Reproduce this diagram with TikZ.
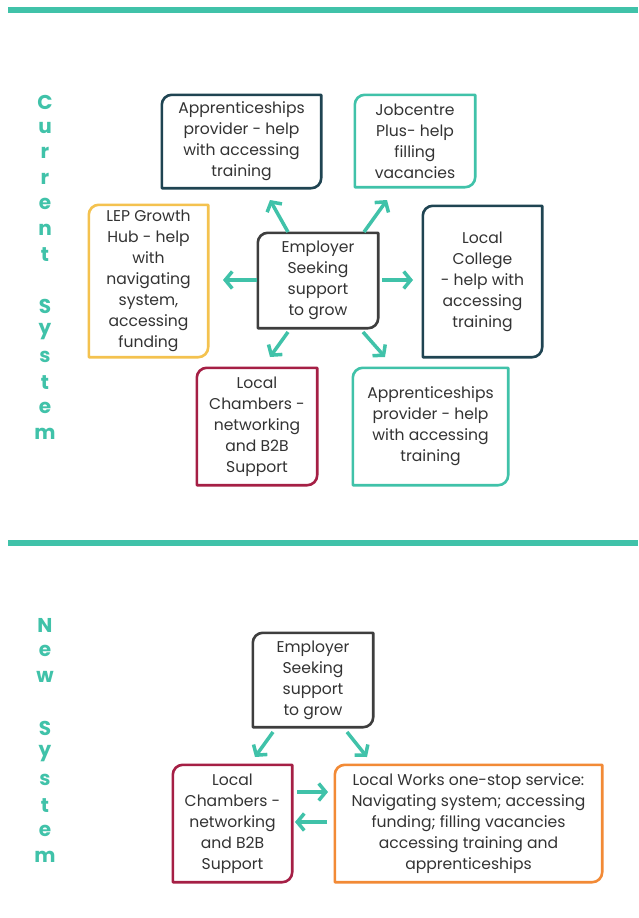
\documentclass[tikz,border=0pt]{standalone}
\usepackage{fontspec}
\setmainfont{Poppins}
\newfontfamily\vfont{Poppins}
\usetikzlibrary{arrows.meta,calc}
\definecolor{tealc}{HTML}{40C2A9}
\definecolor{navyc}{HTML}{1F4452}
\definecolor{yellowc}{HTML}{F4C24F}
\definecolor{grayc}{HTML}{3E3E3E}
\definecolor{crimc}{HTML}{A51F45}
\definecolor{orangec}{HTML}{F28A36}
\definecolor{txtc}{HTML}{333333}
% name, colour, x1, y1, x2, y2, text
\newcommand\mkbox[7]{%
  \node[box, minimum width={(#5-#3)*1pt}, minimum height={(#6-#4)*1pt}] (#1) at ({(#3+#5)/2},{(#4+#6)/2}) {#7};
  \draw[boxline,#2] (#1.north east) -- ([xshift=10pt]#1.north west)
    arc[start angle=90,end angle=180,radius=10pt] -- (#1.south west)
    -- ([xshift=-10pt]#1.south east) arc[start angle=270,end angle=360,radius=10pt] -- cycle;
}
\begin{document}
\begin{tikzpicture}[x=1pt,y=-1pt,
  box/.style={inner sep=0pt, align=center, font=\fontsize{15.6}{21}\selectfont, text=txtc},
  boxline/.style={line width=2.6pt, line join=round},
  arr/.style={tealc, line width=3.5pt, -{Straight Barb[length=7pt,width=17pt]}},
  vlet/.style={font=\vfont\bfseries\fontsize{20}{20}\selectfont, text=tealc, inner sep=0pt},
  rule/.style={tealc, line width=6pt}
]
\useasboundingbox[fill=white] (0,0) rectangle (638,918);
\draw[rule] (8,10) -- (638,10);
\draw[rule] (8,543) -- (638,543);

% vertical headings
\foreach \ch [count=\i from 0] in {C,u,r,r,e,n,t,{},S,y,s,t,e,m}
  \node[vlet] (cs\i) at (45,{102+25.5*\i}) {\ch};
\foreach \ch [count=\i from 0] in {N,e,w,{},S,y,s,t,e,m}
  \node[vlet] (ns\i) at (45,{625+25.8*\i}) {\ch};

% current system
\mkbox{ap1}{navyc}{162}{95}{321}{188}{Apprenticeships\\provider - help\\with accessing\\training}
\mkbox{job}{tealc}{355}{95}{475}{187}{Jobcentre\\Plus- help\\filling\\vacancies}
\mkbox{lep}{yellowc}{89}{205}{208}{357}{LEP Growth\\Hub - help\\with\\navigating\\system,\\accessing\\funding}
\mkbox{emp}{grayc}{258}{233}{378}{328}{Employer\\Seeking\\support\\to grow}
\mkbox{col}{navyc}{423}{206}{542}{357}{Local\\College\\- help with\\accessing\\training}
\mkbox{ch1}{crimc}{197}{368}{317}{485}{Local\\Chambers -\\networking\\and B2B\\Support}
\mkbox{ap2}{tealc}{353}{368}{508}{485}{Apprenticeships\\provider - help\\with accessing\\training}

\coordinate (t1) at (288,232); \coordinate (h1) at (270,200);
\coordinate (t2) at (364,232); \coordinate (h2) at (387,200);
\coordinate (t3) at (257,280); \coordinate (h3) at (223,280);
\coordinate (t4) at (382,280); \coordinate (h4) at (413,280);
\coordinate (t5) at (288,332); \coordinate (h5) at (270,357);
\coordinate (t6) at (363,332); \coordinate (h6) at (385,357);
\foreach \k in {1,...,6} \draw[arr] (t\k) -- (h\k);

% new system
\mkbox{emp2}{grayc}{253}{633}{373}{727}{Employer\\Seeking\\support\\to grow}
\mkbox{ch2}{crimc}{173}{765}{292}{882}{Local\\Chambers -\\networking\\and B2B\\Support}
\mkbox{lw}{orangec}{335}{765}{602}{882}{Local Works one-stop service:\\Navigating system; accessing\\funding; filling vacancies\\accessing training and\\apprenticeships}

\coordinate (u1) at (273,732); \coordinate (g1) at (255,757);
\coordinate (u2) at (347,732); \coordinate (g2) at (367,757);
\coordinate (u3) at (297,792); \coordinate (g3) at (328,792);
\coordinate (u4) at (327,822); \coordinate (g4) at (295,822);
\foreach \k in {1,...,4} \draw[arr] (u\k) -- (g\k);
\end{tikzpicture}
\end{document}
